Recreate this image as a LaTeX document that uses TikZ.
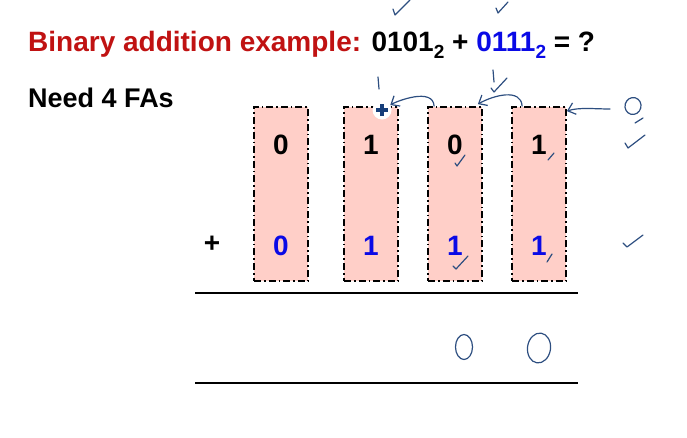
\documentclass[tikz,border=0pt]{standalone}
\usepackage{fontspec}
\setmainfont{Liberation Sans}
\usepackage{xcolor}
\usetikzlibrary{shapes.geometric, arrows.meta, positioning}

\definecolor{titlered}{RGB}{192,18,18}
\definecolor{digitblue}{RGB}{10,10,230}
\definecolor{fapink}{RGB}{255,207,200}
\definecolor{inkblue}{RGB}{45,78,128}
\definecolor{crossblue}{RGB}{22,62,122}

\newcommand{\basetwo}{\raisebox{-7pt}{\fontsize{19}{19}\selectfont 2}}

\begin{document}
\begin{tikzpicture}[x=1pt, y=-1pt, node distance=84pt]
    \tikzstyle{fabox} = [rectangle, minimum width=54pt, minimum height=174pt, draw=black, line width=1.8pt, dash pattern=on 7pt off 3pt on 1.6pt off 3pt, fill=fapink]
    \tikzstyle{bigtext} = [inner sep=0pt, font=\fontsize{28}{30}\selectfont\bfseries]
    \tikzstyle{digit} = [bigtext, text=black]
    \tikzstyle{bdigit} = [bigtext, text=digitblue]
    \tikzstyle{pen} = [draw=inkblue, line width=1.2pt, line cap=round, line join=round]
    \tikzstyle{penarrow} = [pen, -{Straight Barb[length=7pt, width=12pt]}]
    \tikzstyle{penzero} = [ellipse, pen, inner sep=0pt]

    \useasboundingbox (0,0) rectangle (687,437);

    % heading
    \node (title) [bigtext, anchor=base west] at (28,51) {\textcolor{titlered}{Binary addition example:} 0101\basetwo{} + \textcolor{digitblue}{0111\basetwo} = ?};
    \node (need) [bigtext, font=\fontsize{27}{30}\selectfont\bfseries, anchor=base west] at (28,107) {Need 4 FAs};

    % one box per full adder
    \node (fa1) [fabox] at (281,194) {};
    \node (fa2) [fabox, right of=fa1, xshift=6pt] {};
    \node (fa3) [fabox, right of=fa2] {};
    \node (fa4) [fabox, right of=fa3] {};

    \node (a1) [digit] at ([yshift=49pt]fa1.center) {0};
    \node (a2) [digit] at ([yshift=49pt]fa2.center) {1};
    \node (a3) [digit] at ([yshift=49pt]fa3.center) {0};
    \node (a4) [digit] at ([yshift=49pt]fa4.center) {1};
    \node (b1) [bdigit] at ([yshift=-52pt]fa1.center) {0};
    \node (b2) [bdigit] at ([yshift=-52pt]fa2.center) {1};
    \node (b3) [bdigit] at ([yshift=-52pt]fa3.center) {1};
    \node (b4) [bdigit] at ([yshift=-52pt]fa4.center) {1};
    \node (plus) [digit] at (212,244) {+};

    % sum lines
    \coordinate (top left) at (195,293);
    \coordinate (top right) at (578,293);
    \coordinate (low left) at (195,383);
    \coordinate (low right) at (578,383);
    \draw [line width=1.8pt] (top left) -- (top right);
    \draw [line width=1.8pt] (low left) -- (low right);

    % pen notes
    \node (cross) [circle, fill=white, inner sep=0pt, minimum size=19pt] at (382,110) {};
    \draw [crossblue, line width=4.5pt] ([xshift=-6pt]cross.center) -- ([xshift=6pt]cross.center);
    \draw [crossblue, line width=4.5pt] ([yshift=-6pt]cross.center) -- ([yshift=6pt]cross.center);

    \node (cin) [penzero, minimum width=16pt, minimum height=17pt, rotate=-15] at (633,106) {};
    \coordinate (cin tail) at (610,109);
    \draw [penarrow] (cin tail) .. controls +(-15,0) and +(12,-4) .. ([yshift=-5pt]fa4.north east);
    \draw [penarrow] ([xshift=11pt]fa4.north west) .. controls +(-1,-18) and +(16,-9) .. ([xshift=-5pt,yshift=2pt]fa3.north east);
    \draw [penarrow] ([xshift=7pt]fa3.north west) .. controls +(-1,-19) and +(15,-9) .. (cross);

    \node (s3) [penzero, minimum width=17pt, minimum height=25pt] at (464,347) {};
    \node (s4) [penzero, minimum width=23pt, minimum height=30pt, rotate=-8] at (539,348) {};

    % ticks
    \draw [pen] (393,9) -- (395,15) -- (410,0);
    \draw [pen] (496,8) -- (498,13) -- (508,2);
    \draw [pen] (378,77) -- (379,89);
    \draw [pen] (493,70) -- (494,82);
    \draw [pen] (491,88) -- (494,92) -- (507,78);
    \draw [pen] (635,123) -- (643,118);
    \draw [pen] (625,143) -- (628,148) -- (645,135);
    \draw [pen] (623,243) -- (627,247) -- (643,235);
    \draw [pen] (455,163) -- (457,166) -- (465,155);
    \draw [pen] (548,160) -- (554,153);
    \draw [pen] (453,266) -- (456,269) -- (468,256);
    \draw [pen] (547,262) -- (552,254);
\end{tikzpicture}
\end{document}
